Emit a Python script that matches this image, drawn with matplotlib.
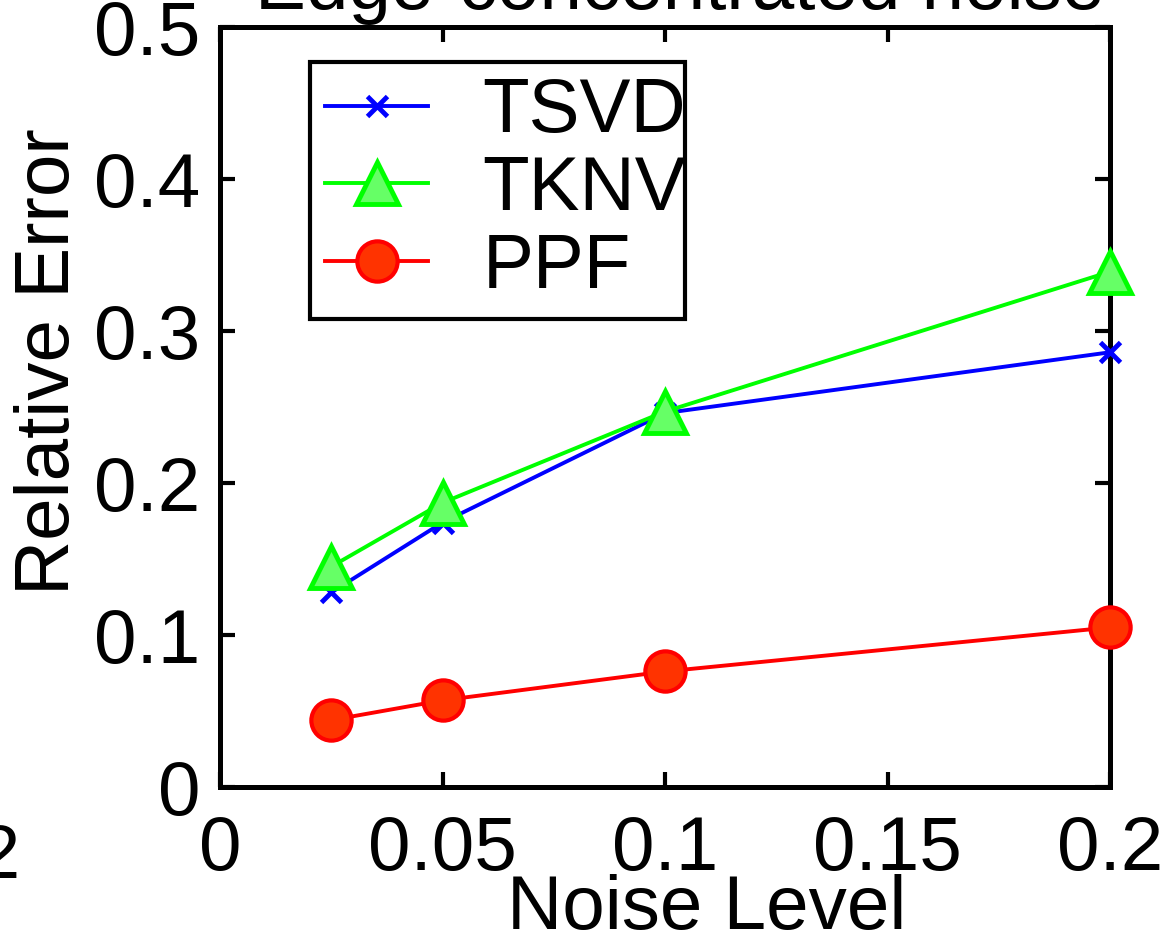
import matplotlib
matplotlib.use("Agg")
import matplotlib.pyplot as plt

plt.rcParams['font.family'] = ['Liberation Sans', 'DejaVu Sans']

noise = [0.025, 0.05, 0.1, 0.2]
tsvd = [0.128, 0.174, 0.246, 0.286]
tknv = [0.145, 0.187, 0.247, 0.339]
ppf = [0.044, 0.057, 0.076, 0.105]

xticks = [0, 0.05, 0.1, 0.15, 0.2]
xticklabels = ["0", "0.05", "0.1", "0.15", "0.2"]
yticks = [0, 0.1, 0.2, 0.3, 0.4, 0.5]
yticklabels = ["0", "0.1", "0.2", "0.3", "0.4", "0.5"]

W, H = 1174, 943
fig = plt.figure(figsize=(W / 100, H / 100), dpi=100)
ax = fig.add_axes([220 / W, 1 - 787 / H, 890 / W, 760 / H])

fs = 55
ax.plot(noise, tsvd, color=(0, 0, 1), lw=2.8, marker='x', ms=15, mew=3.5,
        label='TSVD', clip_on=False, zorder=3)
ax.plot(noise, tknv, color=(0, 1, 0), lw=2.8, marker='^', ms=30, mew=3.5,
        mfc='#66ff66', mec=(0, 1, 0), label='TKNV', clip_on=False, zorder=3)
ax.plot(noise, ppf, color=(1, 0, 0), lw=2.8, marker='o', ms=29, mew=3,
        mfc='#ff3300', mec=(1, 0, 0), label='PPF', clip_on=False, zorder=3)

ax.set_xlim(0, 0.2)
ax.set_ylim(0, 0.5)
ax.set_xticks(xticks)
ax.set_xticklabels(xticklabels)
ax.set_yticks(yticks)
ax.set_yticklabels(yticklabels)
ax.tick_params(direction='in', length=11, width=3, labelsize=fs,
               top=True, right=True)
ax.tick_params(axis='x', pad=20)
ax.tick_params(axis='y', pad=14)
for s in ax.spines.values():
    s.set_linewidth(3.6)
    s.set_zorder(2.5)

ax.set_xlabel("Noise Level", fontsize=fs, va='top')
ax.xaxis.set_label_coords((707 - 220) / 890, -0.115)
ax.set_ylabel("Relative Error", fontsize=fs, va='center')
ax.yaxis.set_label_coords((50 - 220) / 890, (787 - 362) / 760)

leg = ax.legend(loc='upper left', bbox_to_anchor=(0.101, 0.954, 0.421, 0.0),
                mode='expand', fontsize=fs, handlelength=1.35,
                handletextpad=0.55, labelspacing=0.09, borderpad=0.2,
                borderaxespad=0, fancybox=False, framealpha=1)
leg.get_frame().set_edgecolor('black')
leg.get_frame().set_linewidth(3)
leg._legend_box.align = 'left'
for t in leg.get_texts():
    t.set_x(12)

fig.text(680 / W, 1 - 9 / H, "Edge-concentrated noise", fontsize=fs,
         ha='center', va='baseline')
fig.text(20 / W, 1 - 878 / H, "0.2", fontsize=fs, ha='right', va='baseline')

fig.savefig("out.png", dpi=100)
